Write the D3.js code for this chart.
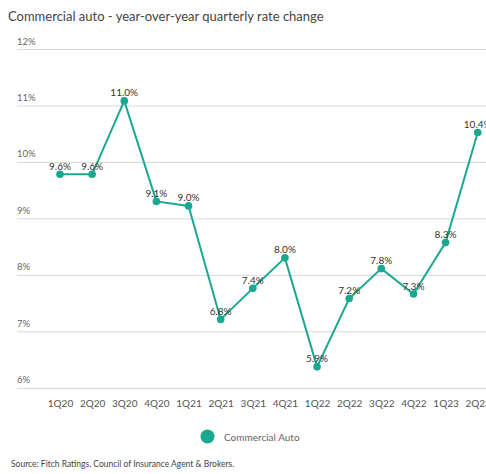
<!DOCTYPE html>
<html><head><meta charset="utf-8">
<script src="https://cdn.jsdelivr.net/npm/d3@7"></script>
<style>body{margin:0;background:#fff;overflow:hidden}svg{display:block;font-family:Lato,"Open Sans",sans-serif}</style>
</head><body>
<svg id="c" width="486" height="474"></svg>
<script>
const quarters = ["1Q20","2Q20","3Q20","4Q20","1Q21","2Q21","3Q21","4Q21","1Q22","2Q22","3Q22","4Q22","1Q23","2Q23"];
const plotted = [9.79,9.79,11.09,9.31,9.23,7.22,7.77,8.31,6.38,7.59,8.12,7.67,8.58,10.53];
const labels = ["9.6%","9.6%","11.0%","9.1%","9.0%","6.8%","7.4%","8.0%","5.9%","7.2%","7.8%","7.3%","8.3%","10.4%"];
const yTicks = [6,7,8,9,10,11,12];
const color = "#1ba890";

const svg = d3.select("#c");
const x = d3.scalePoint().domain(quarters).range([60, 477.7]);
const y = d3.scaleLinear().domain([6,12]).range([388.3, 49.5]);

svg.append("text").attr("x",8).attr("y",21).attr("font-size",13).attr("fill","#444")
  .text("Commercial auto - year-over-year quarterly rate change");

const g = svg.append("g");
yTicks.forEach(t=>{
  g.append("line").attr("x1",17).attr("x2",500).attr("y1",y(t)).attr("y2",y(t))
    .attr("stroke","#d9d9d9").attr("stroke-width",1);
  g.append("text").attr("x",17).attr("y",y(t)-5).attr("font-size",9.5).attr("fill","#666").text(t+"%");
});

const xAxis = svg.append("g").attr("transform","translate(0,388)")
  .call(d3.axisBottom(x).tickSize(0).tickPadding(12));
xAxis.select(".domain").remove();
xAxis.selectAll("text").attr("font-size",10).attr("fill","#555").attr("font-family","Lato, sans-serif");

const data = quarters.map((q,i)=>({q, v:plotted[i], l:labels[i]}));
svg.append("path").datum(data)
  .attr("d", d3.line().x(d=>x(d.q)).y(d=>y(d.v)))
  .attr("fill","none").attr("stroke",color).attr("stroke-width",2);
svg.selectAll("circle.p").data(data).join("circle").attr("class","p")
  .attr("cx",d=>x(d.q)).attr("cy",d=>y(d.v)).attr("r",3.8).attr("fill",color);
svg.selectAll("text.lbl").data(data).join("text").attr("class","lbl")
  .attr("x",d=>x(d.q)).attr("y",d=>y(d.v)-4.5).attr("text-anchor","middle")
  .attr("font-size",10).attr("fill","#333").text(d=>d.l);

svg.append("circle").attr("cx",207.5).attr("cy",436.5).attr("r",7).attr("fill",color);
svg.append("text").attr("x",224).attr("y",440.5).attr("font-size",10).attr("fill","#666").text("Commercial Auto");

svg.append("text").attr("x",11).attr("y",467).attr("font-size",8.5).attr("fill","#444")
  .text("Source: Fitch Ratings, Council of Insurance Agent & Brokers.");
</script>
</body></html>
